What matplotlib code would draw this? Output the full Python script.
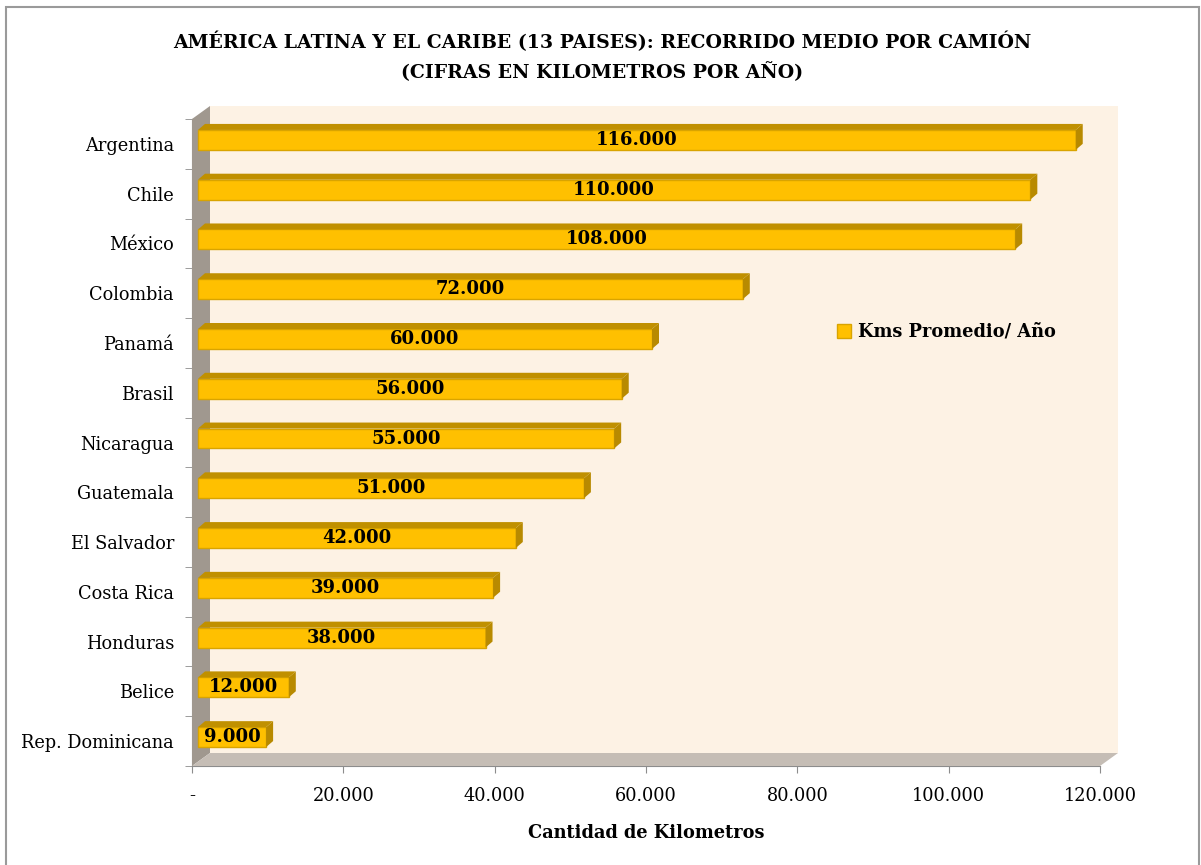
import matplotlib
matplotlib.use("Agg")
import matplotlib.pyplot as plt
from matplotlib.patches import Polygon, Rectangle, Patch

# data (top to bottom as shown)
paises = ["Argentina", "Chile", "México", "Colombia", "Panamá", "Brasil", "Nicaragua",
          "Guatemala", "El Salvador", "Costa Rica", "Honduras", "Belice", "Rep. Dominicana"]
kms = [116000, 110000, 108000, 72000, 60000, 56000, 55000,
       51000, 42000, 39000, 38000, 12000, 9000]
x_ticks = [0, 20000, 40000, 60000, 80000, 100000, 120000]
x_labels = ["-", "20.000", "40.000", "60.000", "80.000", "100.000", "120.000"]

plt.rcParams['font.family'] = ['DejaVu Serif']

W, H = 1201, 865
fig = plt.figure(figsize=(W / 100, H / 100), dpi=100)
ax = fig.add_axes([192 / W, (H - 766) / H, (1100 - 192) / W, (766 - 119) / H])
n = len(paises)
ax.set_xlim(0, 120000)
ax.set_ylim(n - 0.5, -0.5)
ax.patch.set_alpha(0)
for s in ["top", "right"]:
    ax.spines[s].set_visible(False)
for s in ["left", "bottom"]:
    ax.spines[s].set_color("#8c8c8c")

# colours
wall_c = "#fdf2e4"
side_c = "#a0988f"
floor_c = "#c5bdb5"
bar_c = "#ffc000"
bar_dark = "#c09000"
bar_edge = "#d9a400"

# depth offsets in pixels
wx, wy = 18, 13      # walls
bx, by = 6, 4        # bar front plane
dx, dy = 7, 6        # bar depth

T = ax.transData.transform


def px(x, y):
    return T((x, y))


def poly(pts, color, z, ec="none", lw=0):
    p = Polygon(pts, closed=True, facecolor=color, edgecolor=ec, lw=lw,
                transform=None, zorder=z)
    fig.add_artist(p)


# back wall, left wall, floor
x0, y0 = px(0, n - 0.5)
x1, y1 = px(120000, -0.5)
poly([(x0 + wx, y0 + wy), (x1 + wx, y0 + wy), (x1 + wx, y1 + wy), (x0 + wx, y1 + wy)], wall_c, 0.5)
poly([(x0, y0), (x0, y1), (x0 + wx, y1 + wy), (x0 + wx, y0 + wy)], side_c, 0.6)
poly([(x0, y0), (x1, y0), (x1 + wx, y0 + wy), (x0 + wx, y0 + wy)], floor_c, 0.6)

# bars with 3D faces
hb = 0.40
for i, v in enumerate(kms):
    ax.barh(i, v, height=hb, color="none")
    lx, ty = px(0, i - hb / 2)
    rx, bot = px(v, i + hb / 2)
    lx, rx = lx + bx, rx + bx
    ty, bot = ty + by, bot + by
    poly([(lx, bot), (rx, bot), (rx, ty), (lx, ty)], bar_c, 2, ec=bar_edge, lw=1)
    poly([(lx, ty), (rx, ty), (rx + dx, ty + dy), (lx + dx, ty + dy)], bar_dark, 2)
    poly([(rx, ty), (rx, bot), (rx + dx, bot + dy), (rx + dx, ty + dy)], "#b88a00", 2)
    cx = (lx + rx) / 2
    cy = (ty + bot) / 2
    fig.text(cx / W, cy / H, f"{v:,}".replace(",", "."), ha="center", va="center",
             fontsize=13, fontweight="bold", color="black", zorder=5)

# axes ticks
ax.set_yticks(range(n))
ax.set_yticklabels(paises, fontsize=12.8)
ax.set_yticks([i - 0.5 for i in range(n + 1)], minor=True)
ax.tick_params(axis="y", which="major", length=0, pad=13)
ax.tick_params(axis="y", which="minor", length=5, color="#8c8c8c", direction="out")
ax.set_xticks(x_ticks)
ax.set_xticklabels(x_labels, fontsize=12.8)
ax.tick_params(axis="x", length=5, color="#8c8c8c", direction="out", pad=10)
ax.set_xlabel("Cantidad de Kilometros", fontsize=12.8, fontweight="bold", labelpad=14)

# legend
fig.legend(handles=[Patch(facecolor=bar_c, edgecolor=bar_edge, label="Kms Promedio/ Año")],
           loc="center left", bbox_to_anchor=(821 / W, 1 - 332 / H), frameon=False,
           handlelength=0.8, handleheight=0.8, handletextpad=0.4,
           prop={"size": 12.8, "weight": "bold"})

# title
fig.text(602 / W, 1 - 42 / H, "AMÉRICA LATINA Y EL CARIBE (13 PAISES): RECORRIDO MEDIO POR CAMIÓN",
         ha="center", va="center", fontsize=13.6, fontweight="bold")
fig.text(602 / W, 1 - 72 / H, "(CIFRAS EN KILOMETROS POR AÑO)",
         ha="center", va="center", fontsize=13.6, fontweight="bold")

# outer border (bottom edge falls outside the image)
fig.add_artist(Rectangle((6 / W, -0.01), (1199 - 6) / W, 1.01 - 7 / H, fill=False,
                         edgecolor="#9a9a9a", lw=1.5, transform=fig.transFigure))

fig.savefig("out.png", dpi=100)
